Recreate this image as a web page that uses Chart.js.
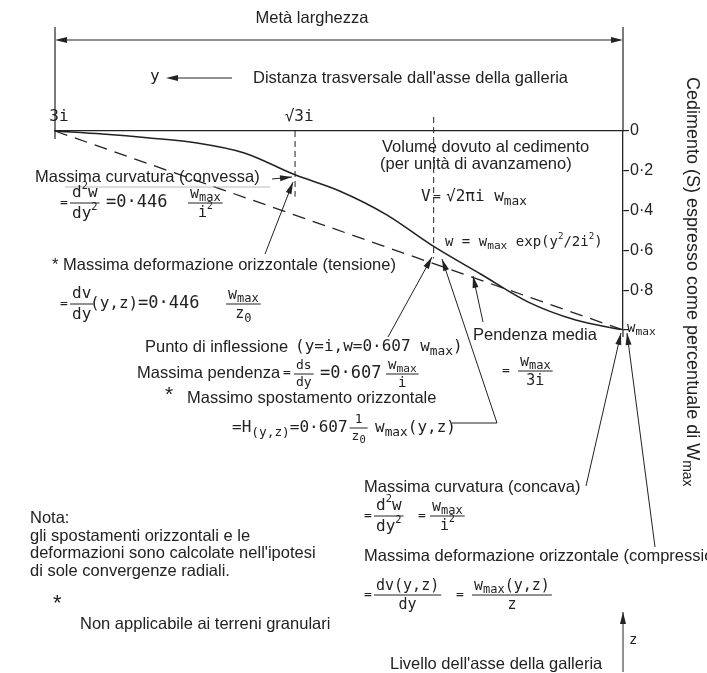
<!DOCTYPE html>
<html>
<head>
<meta charset="utf-8">
<script src="https://cdn.jsdelivr.net/npm/chart.js@4/dist/chart.umd.min.js"></script>
<style>
  html, body { margin: 0; padding: 0; background: #fff; }
  canvas { display: block; }
</style>
</head>
<body>
<canvas id="trough" width="707" height="673"></canvas>
<script>
// distance from tunnel axis, in units of i (3i on the left, 0 at the axis)
const troughY = [3, 2.75, 2.5, 2.25, 2, 1.732, 1.5, 1.25, 1, 0.75, 0.5, 0.25, 0];
// settlement S / wmax
const troughS = [0, 0.015, 0.035, 0.06, 0.11, 0.22, 0.3, 0.42, 0.58, 0.72, 0.86, 0.95, 1.0];
// straight "pendenza media" line, 3i -> wmax
const slopeY = [3, 0];
const slopeS = [0, 1];
// dashed verticals at sqrt(3)i and i
const root3Y = [1.732, 1.732];
const root3S = [0, 0.33];
const inflY = [1, 1];
const inflS = [-0.07, 0.64];

const xTickValues = [3, 1.732];
const xTickLabels = ["3i", "√3i"];
const yTickValues = [0, 0.2, 0.4, 0.6, 0.8, 1];
const yTickLabels = ["0", "0·2", "0·4", "0·6", "0·8", ""];

const INK = "#222";
const SANS = '"Liberation Sans", Arial, sans-serif';
const MONO = '"DejaVu Sans Mono", monospace';

function pts(xs, ys) {
    return xs.map((x, i) => ({ x: x, y: ys[i] }));
}

/* formula text: parts are strings or [text, "sub"|"sup"] */
function runWidth(ctx, parts, size) {
    let w = 0;
    for (const p of parts) {
        const t = typeof p === "string" ? p : p[0];
        const k = typeof p === "string" ? "" : p[1];
        const fs = k === "sub" ? size * 0.8 : k === "sup" ? size * 0.65 : size;
        ctx.font = fs + "px " + MONO;
        w += ctx.measureText(t).width;
    }
    return w;
}

function run(ctx, parts, x, y, size) {
    size = size || 16;
    ctx.textAlign = "left";
    for (const p of parts) {
        const t = typeof p === "string" ? p : p[0];
        const k = typeof p === "string" ? "" : p[1];
        let fs = size, dy = 0;
        if (k === "sub") { fs = size * 0.8; dy = size * 0.3; }
        if (k === "sup") { fs = size * 0.65; dy = -size * 0.4; }
        ctx.font = fs + "px " + MONO;
        ctx.fillText(t, x, y + dy);
        x += ctx.measureText(t).width;
    }
    return x;
}

function frac(ctx, num, den, x, y, size) {
    size = size || 16;
    const wn = runWidth(ctx, num, size);
    const wd = runWidth(ctx, den, size);
    const w = Math.max(wn, wd) + 4;
    run(ctx, num, x + (w - wn) / 2, y - size * 0.62, size);
    run(ctx, den, x + (w - wd) / 2, y + size * 0.66, size);
    ctx.lineWidth = 1;
    ctx.beginPath();
    ctx.moveTo(x, y);
    ctx.lineTo(x + w, y);
    ctx.stroke();
    return x + w;
}

function text(ctx, s, x, y, size, align) {
    ctx.font = (size || 16.5) + "px " + SANS;
    ctx.textAlign = align || "left";
    ctx.fillText(s, x, y);
}

function line(ctx, a, w) {
    ctx.lineWidth = w || 1;
    ctx.beginPath();
    ctx.moveTo(a[0], a[1]);
    for (let i = 2; i < a.length; i += 2) ctx.lineTo(a[i], a[i + 1]);
    ctx.stroke();
}

function head(ctx, x1, y1, x2, y2) {
    const ang = Math.atan2(y2 - y1, x2 - x1);
    const L = 12, H = 3;
    ctx.beginPath();
    ctx.moveTo(x2, y2);
    ctx.lineTo(x2 - L * Math.cos(ang) + H * Math.sin(ang), y2 - L * Math.sin(ang) - H * Math.cos(ang));
    ctx.lineTo(x2 - L * Math.cos(ang) - H * Math.sin(ang), y2 - L * Math.sin(ang) + H * Math.cos(ang));
    ctx.closePath();
    ctx.fill();
}

function arrow(ctx, x1, y1, x2, y2) {
    line(ctx, [x1, y1, x2, y2], 1);
    head(ctx, x1, y1, x2, y2);
}

const paper = {
    id: "paper",
    beforeDraw(chart) {
        const ctx = chart.ctx;
        ctx.save();
        ctx.fillStyle = "#fff";
        ctx.fillRect(0, 0, chart.width, chart.height);
        ctx.restore();
    },
};

const notes = {
    id: "notes",
    afterDraw(chart) {
        const ctx = chart.ctx;
        const area = chart.chartArea;
        const ys = chart.scales.y;
        ctx.save();
        ctx.fillStyle = INK;
        ctx.strokeStyle = INK;
        ctx.textBaseline = "middle";

        /* half-width dimension line */
        text(ctx, "Metà larghezza", 312, 18, 16.5, "center");
        line(ctx, [area.left + 4, 40, area.right - 4, 40], 1);
        head(ctx, area.right - 20, 40, area.right, 40);
        head(ctx, area.left + 20, 40, area.left, 40);
        line(ctx, [area.left, 27, area.left, area.top + 8], 1.2);
        line(ctx, [area.right, 27, area.right, area.top], 1.2);
        line(ctx, [area.right, area.bottom, area.right, area.bottom + 7], 1.2);

        run(ctx, ["y"], 150, 77, 16);
        line(ctx, [232, 78, 170, 78], 1);
        head(ctx, 185, 78, 166, 78);
        text(ctx, "Distanza trasversale dall'asse della galleria", 253, 78);

        /* rotated axis title */
        ctx.save();
        ctx.translate(692, 77);
        ctx.rotate(Math.PI / 2);
        ctx.font = "18px " + SANS;
        ctx.textAlign = "left";
        const t1 = "Cedimento (S) espresso come percentuale di W";
        ctx.fillText(t1, 0, 0);
        const w1 = ctx.measureText(t1).width;
        ctx.font = "14px " + SANS;
        ctx.fillText("max", w1, 5);
        ctx.restore();

        /* wmax at the bottom tick */
        const yb = ys.getPixelForValue(1);
        run(ctx, ["w", ["max", "sub"]], area.right + 4, yb - 2, 14);

        /* volume */
        text(ctx, "Volume dovuto al cedimento", 382, 147);
        text(ctx, "(per unità di avanzameno)", 380, 164);
        run(ctx, ["V"], 421, 197, 16);
        run(ctx, ["="], 433, 197, 13);
        run(ctx, ["√2πi w", ["max", "sub"]], 446, 197, 16);
        run(ctx, ["w = w", ["max", "sub"], " exp(y", ["2", "sup"], "/2i", ["2", "sup"], ")"], 445, 242, 14);

        /* convex curvature */
        text(ctx, "Massima curvatura (convessa)", 35, 177);
        ctx.strokeStyle = "#aaa";
        line(ctx, [65, 187, 270, 187], 0.8);
        ctx.strokeStyle = INK;
        arrow(ctx, 272, 179, 292, 177);
        run(ctx, ["="], 60, 203, 13);
        frac(ctx, ["d", ["2", "sup"], "w"], ["dy", ["2", "sup"]], 70, 203, 16);
        run(ctx, ["=0·446"], 106, 203, 17);
        frac(ctx, ["w", ["max", "sub"]], ["i", ["2", "sup"]], 188, 203, 15);

        /* tension */
        arrow(ctx, 265, 254, 293, 182);
        text(ctx, "* Massima deformazione orizzontale (tensione)", 52, 265);
        run(ctx, ["="], 60, 304, 13);
        frac(ctx, ["dv"], ["dy"], 70, 304, 16);
        run(ctx, ["(y,z)"], 90, 304, 16);
        run(ctx, ["=0·446"], 138, 304, 17);
        frac(ctx, ["w", ["max", "sub"]], ["z", ["0", "sub"]], 226, 304, 15);

        /* inflection */
        arrow(ctx, 388, 337, 432, 257);
        text(ctx, "Punto di inflessione", 145, 347);
        run(ctx, ["(y=i,w=0·607 w", ["max", "sub"], ")"], 295, 347, 16);
        text(ctx, "Massima pendenza", 137, 373);
        run(ctx, ["="], 283, 373, 13);
        frac(ctx, ["ds"], ["dy"], 294, 374, 13);
        run(ctx, ["=0·607"], 320, 374, 17);
        frac(ctx, ["w", ["max", "sub"]], ["i"], 386, 374, 14);

        /* horizontal displacement */
        text(ctx, "*", 165, 395, 21);
        text(ctx, "Massimo spostamento orizzontale", 187, 398);
        const hx = run(ctx, ["=H", ["(y,z)", "sub"], "=0·607"], 232, 428, 16);
        frac(ctx, ["1"], ["z", ["0", "sub"]], hx + 2, 428, 13);
        run(ctx, ["w", ["max", "sub"], "(y,z)"], 375, 428, 16);
        line(ctx, [452, 423, 497, 423, 442, 259], 1);
        head(ctx, 446, 270, 442, 259);

        /* average slope */
        arrow(ctx, 483, 322, 473, 276);
        text(ctx, "Pendenza media", 473, 335);
        run(ctx, ["="], 502, 371, 13);
        frac(ctx, ["w", ["max", "sub"]], ["3i"], 518, 371, 15);

        /* concave curvature */
        arrow(ctx, 586, 486, 621, 333);
        text(ctx, "Massima curvatura (concava)", 364, 487);
        run(ctx, ["="], 364, 516, 13);
        frac(ctx, ["d", ["2", "sup"], "w"], ["dy", ["2", "sup"]], 374, 516, 16);
        run(ctx, ["="], 418, 516, 13);
        frac(ctx, ["w", ["max", "sub"]], ["i", ["2", "sup"]], 430, 516, 15);

        /* compression */
        arrow(ctx, 655, 547, 627, 333);
        text(ctx, "Massima deformazione orizzontale (compressione", 364, 556);
        run(ctx, ["="], 364, 595, 13);
        frac(ctx, ["dv(y,z)"], ["dy"], 374, 595, 15);
        run(ctx, ["="], 456, 595, 13);
        frac(ctx, ["w", ["max", "sub"], "(y,z)"], ["z"], 472, 595, 15);

        /* note */
        text(ctx, "Nota:", 30, 518);
        text(ctx, "gli spostamenti orizzontali e le", 30, 536);
        text(ctx, "deformazioni sono calcolate nell'ipotesi", 30, 553);
        text(ctx, "di sole convergenze radiali.", 30, 571);
        text(ctx, "*", 53, 604, 22);
        text(ctx, "Non applicabile ai terreni granulari", 80, 624);

        /* tunnel axis level */
        arrow(ctx, 623, 672, 623, 612);
        run(ctx, ["z"], 629, 640, 14);
        text(ctx, "Livello dell'asse della galleria", 390, 664);

        ctx.restore();
    },
};

const dashed = (data, dash, w) => ({
    data: data,
    showLine: true,
    borderColor: INK,
    borderWidth: w,
    borderDash: dash,
    pointRadius: 0,
    clip: false,
});

new Chart(document.getElementById("trough"), {
    type: "scatter",
    data: {
        datasets: [
            {
                label: "w",
                data: pts(troughY, troughS),
                showLine: true,
                borderColor: INK,
                borderWidth: 1.6,
                pointRadius: 0,
                cubicInterpolationMode: "monotone",
            },
            dashed(pts(slopeY, slopeS), [13, 8], 1.3),
            dashed(pts(root3Y, root3S), [6, 4], 1),
            dashed(pts(inflY, inflS), [6, 4], 1),
        ],
    },
    plugins: [paper, notes],
    options: {
        responsive: false,
        animation: false,
        devicePixelRatio: 1,
        layout: { padding: { top: 101, left: 55, right: 0, bottom: 343 } },
        plugins: { legend: { display: false }, tooltip: { enabled: false } },
        scales: {
            x: {
                type: "linear",
                position: "top",
                reverse: true,
                min: 0,
                max: 3,
                afterBuildTicks: (s) => { s.ticks = xTickValues.map((v) => ({ value: v })); },
                afterFit: (s) => { s.height = 30; },
                grid: { drawOnChartArea: false, drawTicks: false },
                border: { display: true, color: INK, width: 1.3 },
                ticks: {
                    callback: (v, i) => xTickLabels[i],
                    font: { family: MONO, size: 16 },
                    color: INK,
                    padding: 5,
                    labelOffset: 4,
                    maxRotation: 0,
                    autoSkip: false,
                },
            },
            y: {
                type: "linear",
                position: "right",
                reverse: true,
                min: 0,
                max: 1,
                afterBuildTicks: (s) => { s.ticks = yTickValues.map((v) => ({ value: v })); },
                afterFit: (s) => { s.width = 84; },
                grid: { drawOnChartArea: false, tickLength: 6, color: INK, lineWidth: 1.2 },
                border: { display: true, color: INK, width: 1.3 },
                ticks: {
                    callback: (v, i) => yTickLabels[i],
                    font: { family: SANS, size: 16 },
                    color: INK,
                    padding: 1,
                    autoSkip: false,
                },
            },
        },
    },
});
</script>
</body>
</html>
